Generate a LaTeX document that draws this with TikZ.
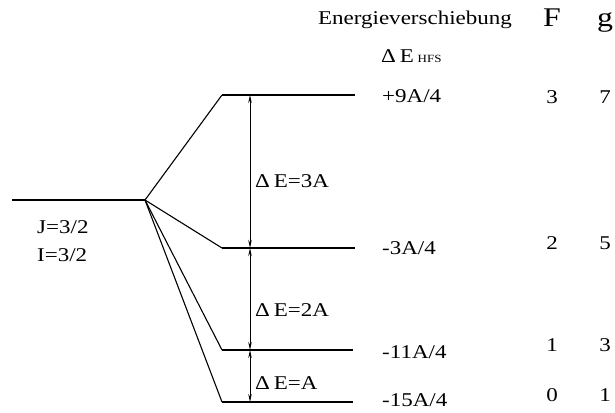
\documentclass[tikz,border=0pt]{standalone}
\usepackage{fontspec}
\setmainfont{Liberation Serif}
\usetikzlibrary{arrows.meta}
\newcommand{\widetxt}[1]{\scalebox{1.18}[1]{#1}}
\begin{document}
\begin{tikzpicture}[x=1pt,y=-1pt,
  level/.style={line width=1.5pt},
  slope/.style={line width=1.1pt},
  gap/.style={line width=0.9pt,{Stealth[length=8pt,width=3.5pt]}-{Stealth[length=8pt,width=3.5pt]}},
  txt/.style={inner sep=0pt,font=\fontsize{19.5}{22}\selectfont},
  big/.style={inner sep=0pt,font=\fontsize{27}{30}\selectfont}]
\useasboundingbox (0,0) rectangle (615,412);
% level end points
\coordinate (J0) at (12,200);
\coordinate (S) at (145,200);
\coordinate (L3a) at (222,95);  \coordinate (L3b) at (355,95);
\coordinate (L2a) at (222,248); \coordinate (L2b) at (355,248);
\coordinate (L1a) at (222,350); \coordinate (L1b) at (353,350);
\coordinate (L0a) at (222,402); \coordinate (L0b) at (353,402);
\coordinate (A3) at (250,95);
\coordinate (A2) at (250,248);
\coordinate (A1) at (250,350);
\coordinate (A0) at (250,402);
% levels
\draw[level] (J0) -- (S);
\draw[level] (L3a) -- (L3b);
\draw[level] (L2a) -- (L2b);
\draw[level] (L1a) -- (L1b);
\draw[level] (L0a) -- (L0b);
% splitting lines
\draw[slope] (S) -- (L3a);
\draw[slope] (S) -- (L2a);
\draw[slope] (S) -- (L1a);
\draw[slope] (S) -- (L0a);
% gaps
\draw[gap] (A3) -- (A2);
\draw[gap] (A2) -- (A1);
\draw[gap] (A1) -- (A0);
% labels
\node[txt,anchor=west] (dE3) at (255,181) {\widetxt{Δ\,E=3A}};
\node[txt,anchor=west] (dE2) at (255,310) {\widetxt{Δ\,E=2A}};
\node[txt,anchor=west] (dE1) at (255,383) {\widetxt{Δ\,E=A}};
\node[txt,anchor=west] (J) at (37,227) {\widetxt{J=3/2}};
\node[txt,anchor=west] (I) at (37,255) {\widetxt{I=3/2}};
\node[txt,anchor=west] (e3) at (382,96) {\widetxt{+9A/4}};
\node[txt,anchor=west] (e2) at (382,248) {\widetxt{-3A/4}};
\node[txt,anchor=west] (e1) at (382,352) {\widetxt{-11A/4}};
\node[txt,anchor=west] (e0) at (382,400) {\widetxt{-15A/4}};
\node[txt,anchor=base] (head) at (415,25) {\widetxt{Energieverschiebung}};
\node[txt,anchor=base west] (dEH) at (381,63) {\widetxt{Δ\,E\,{\fontsize{11}{12}\selectfont HFS}}};
\node[big,anchor=base] (Fh) at (552,27) {\widetxt{F}};
\node[big,anchor=base] (gh) at (605,27) {\widetxt{g}};
\node[txt] (F3) at (552,97) {\widetxt{3}};
\node[txt] (g3) at (605,97) {\widetxt{7}};
\node[txt] (F2) at (552,243) {\widetxt{2}};
\node[txt] (g2) at (605,243) {\widetxt{5}};
\node[txt] (F1) at (552,345) {\widetxt{1}};
\node[txt] (g1) at (605,345) {\widetxt{3}};
\node[txt] (F0) at (552,395) {\widetxt{0}};
\node[txt] (g0) at (605,395) {\widetxt{1}};
\end{tikzpicture}
\end{document}
